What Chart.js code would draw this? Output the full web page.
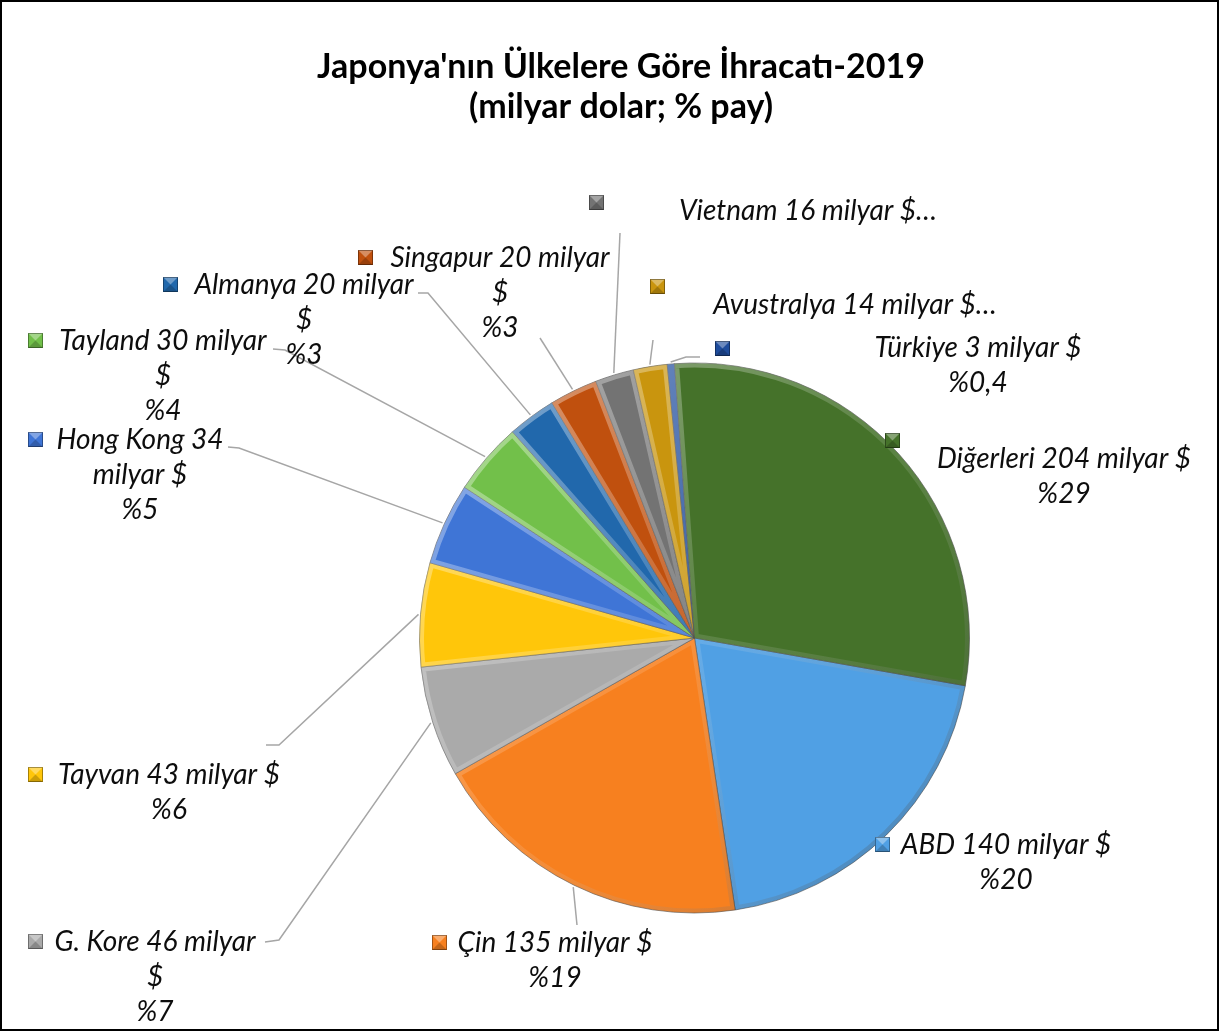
<!DOCTYPE html>
<html>
<head>
<meta charset="utf-8">
<script src="https://cdn.jsdelivr.net/npm/chart.js@4.4.1/dist/chart.umd.min.js"></script>
<style>
  html, body { margin: 0; padding: 0; background: #fff; }
  #wrap { width: 1219px; height: 1031px; position: relative; }
</style>
</head>
<body>
<div id="wrap"><canvas id="chart" width="1219" height="1031"></canvas></div>
<script>
// data, in Excel's order (ABD first, Diğerleri last)
const countries = ['ABD', 'Çin', 'G. Kore', 'Tayvan', 'Hong Kong', 'Tayland', 'Almanya', 'Singapur', 'Vietnam', 'Avustralya', 'Türkiye', 'Diğerleri'];
const exportsBn = [140, 135, 46, 43, 34, 30, 20, 20, 16, 14, 3, 204];
const titleLines = ["Japonya'nın Ülkelere Göre İhracatı-2019", '(milyar dolar; % pay)'];

const colors = ['#50a0e4', '#f7801f', '#aaaaaa', '#ffc60a', '#3f75d6', '#72c04a',
                '#2168ac', '#c0500e', '#737373', '#c9950e', '#1e4c9c', '#45722a'];

// where each data label sits (text centre x, first line centre y), its key box and leader path
const labelPlacement = [
  { cx: 1006, y: 845, key: [875, 837] },
  { cx: 555, y: 943, key: [432, 935], leader: [[577, 925]] },
  { cx: 155, y: 942, key: [28, 934], breaks: [4], leader: [[279, 940], [265, 942]] },
  { cx: 169, y: 775, key: [28, 767], leader: [[279, 745], [266, 745]] },
  { cx: 140, y: 440, key: [28, 432], breaks: [3], leader: [[239, 448], [228, 447]] },
  { cx: 163, y: 341, key: [28, 333], breaks: [3], leader: [[285, 350], [273, 349]] },
  { cx: 304, y: 285, key: [163, 277], breaks: [3], leader: [[428, 293], [418, 293]] },
  { cx: 500, y: 258, key: [358, 250], breaks: [3], leader: [[540, 338]] },
  { cx: 808, y: 211, key: [589, 195], cut: true, leader: [[620, 233]] },
  { cx: 855, y: 305, key: [650, 279], cut: true, leader: [[653, 340]] },
  { cx: 978, y: 348, key: [715, 341], leader: [[686, 357], [700, 357]] },
  { cx: 1064, y: 459, key: [885, 433] }
];

const total = exportsBn.reduce((a, b) => a + b, 0);

function pctText(v) {
  const p = v / total * 100;
  return '%' + (p < 1 ? p.toFixed(1).replace('.', ',') : Math.round(p));
}

function labelLines(i) {
  const words = (countries[i] + ' ' + exportsBn[i] + ' milyar $').split(' ');
  const place = labelPlacement[i];
  if (place.cut) return [words.join(' ') + '…'];
  const lines = [];
  let pos = 0;
  (place.breaks || []).forEach(n => {
    lines.push(words.slice(pos, pos + n).join(' '));
    pos += n;
  });
  lines.push(words.slice(pos).join(' '));
  lines.push(pctText(exportsBn[i]));
  return lines;
}

const pieExtras = {
  id: 'pieExtras',
  beforeDraw(chart) {
    const ctx = chart.ctx;
    ctx.save();
    ctx.fillStyle = '#fff';
    ctx.fillRect(0, 0, chart.width, chart.height);
    ctx.strokeStyle = '#000';
    ctx.lineWidth = 2;
    ctx.strokeRect(1, 1, chart.width - 2, chart.height - 2);

    ctx.fillStyle = '#000';
    ctx.font = 'bold 34px Lato';
    ctx.textAlign = 'center';
    ctx.textBaseline = 'middle';
    ctx.fillText(titleLines[0], 621, 67);
    ctx.fillText(titleLines[1], 621, 107);
    ctx.restore();
  },
  afterDatasetsDraw(chart) {
    const ctx = chart.ctx;
    const arcs = chart.getDatasetMeta(0).data;
    // bevel: light upper-left rim, dark lower-right rim inside every slice
    arcs.forEach(arc => {
      const p = arc.getProps(['x', 'y', 'startAngle', 'endAngle', 'outerRadius']);
      ctx.save();
      ctx.beginPath();
      ctx.moveTo(p.x, p.y);
      ctx.arc(p.x, p.y, p.outerRadius, p.startAngle, p.endAngle);
      ctx.closePath();
      ctx.clip();
      const g = ctx.createLinearGradient(p.x - p.outerRadius, p.y - p.outerRadius, p.x + p.outerRadius, p.y + p.outerRadius);
      g.addColorStop(0, 'rgba(255,255,255,0.45)');
      g.addColorStop(0.5, 'rgba(255,255,255,0.12)');
      g.addColorStop(1, 'rgba(0,0,0,0.28)');
      ctx.strokeStyle = g;
      ctx.lineWidth = 9;
      ctx.lineJoin = 'round';
      ctx.stroke();
      ctx.restore();
    });

    arcs.forEach((arc, i) => {
      const p = arc.getProps(['x', 'y', 'startAngle', 'endAngle', 'outerRadius']);
      const place = labelPlacement[i];
      const mid = (p.startAngle + p.endAngle) / 2;
      const ex = p.x + Math.cos(mid) * (p.outerRadius + 2);
      const ey = p.y + Math.sin(mid) * (p.outerRadius + 2);

      // leader line
      if (place.leader) {
        ctx.save();
        ctx.strokeStyle = '#a6a6a6';
        ctx.lineWidth = 1.5;
        ctx.beginPath();
        ctx.moveTo(ex, ey);
        place.leader.forEach(pt => ctx.lineTo(pt[0], pt[1]));
        ctx.stroke();
        ctx.restore();
      }

      // key box
      const [kx, ky] = place.key;
      const s = 15;
      ctx.save();
      ctx.fillStyle = colors[i];
      ctx.fillRect(kx, ky, s, s);
      ctx.fillStyle = 'rgba(255,255,255,0.35)';
      ctx.beginPath();
      ctx.moveTo(kx, ky); ctx.lineTo(kx + s, ky); ctx.lineTo(kx + s / 2, ky + s / 2); ctx.closePath();
      ctx.fill();
      ctx.fillStyle = 'rgba(0,0,0,0.2)';
      ctx.beginPath();
      ctx.moveTo(kx, ky + s); ctx.lineTo(kx + s, ky + s); ctx.lineTo(kx + s / 2, ky + s / 2); ctx.closePath();
      ctx.fill();
      ctx.strokeStyle = 'rgba(0,0,0,0.35)';
      ctx.lineWidth = 1;
      ctx.strokeRect(kx + 0.5, ky + 0.5, s - 1, s - 1);
      ctx.restore();

      // label text
      ctx.save();
      ctx.fillStyle = '#0d0d0d';
      ctx.font = 'italic 28px Lato';
      ctx.textAlign = 'center';
      ctx.textBaseline = 'middle';
      labelLines(i).forEach((line, k) => ctx.fillText(line, place.cx, place.y + k * 35));
      ctx.restore();
    });
  }
};

new Chart(document.getElementById('chart'), {
  type: 'pie',
  data: {
    labels: countries,
    datasets: [{
      data: exportsBn,
      backgroundColor: colors,
      borderColor: 'rgba(60,60,60,0.55)',
      borderWidth: 1
    }]
  },
  options: {
    responsive: false,
    animation: false,
    rotation: 100,
    layout: { padding: { left: 419, right: 249, top: 362, bottom: 117 } },
    plugins: {
      legend: { display: false },
      tooltip: { enabled: false },
      title: { display: false }
    }
  },
  plugins: [pieExtras]
});
</script>
</body>
</html>
